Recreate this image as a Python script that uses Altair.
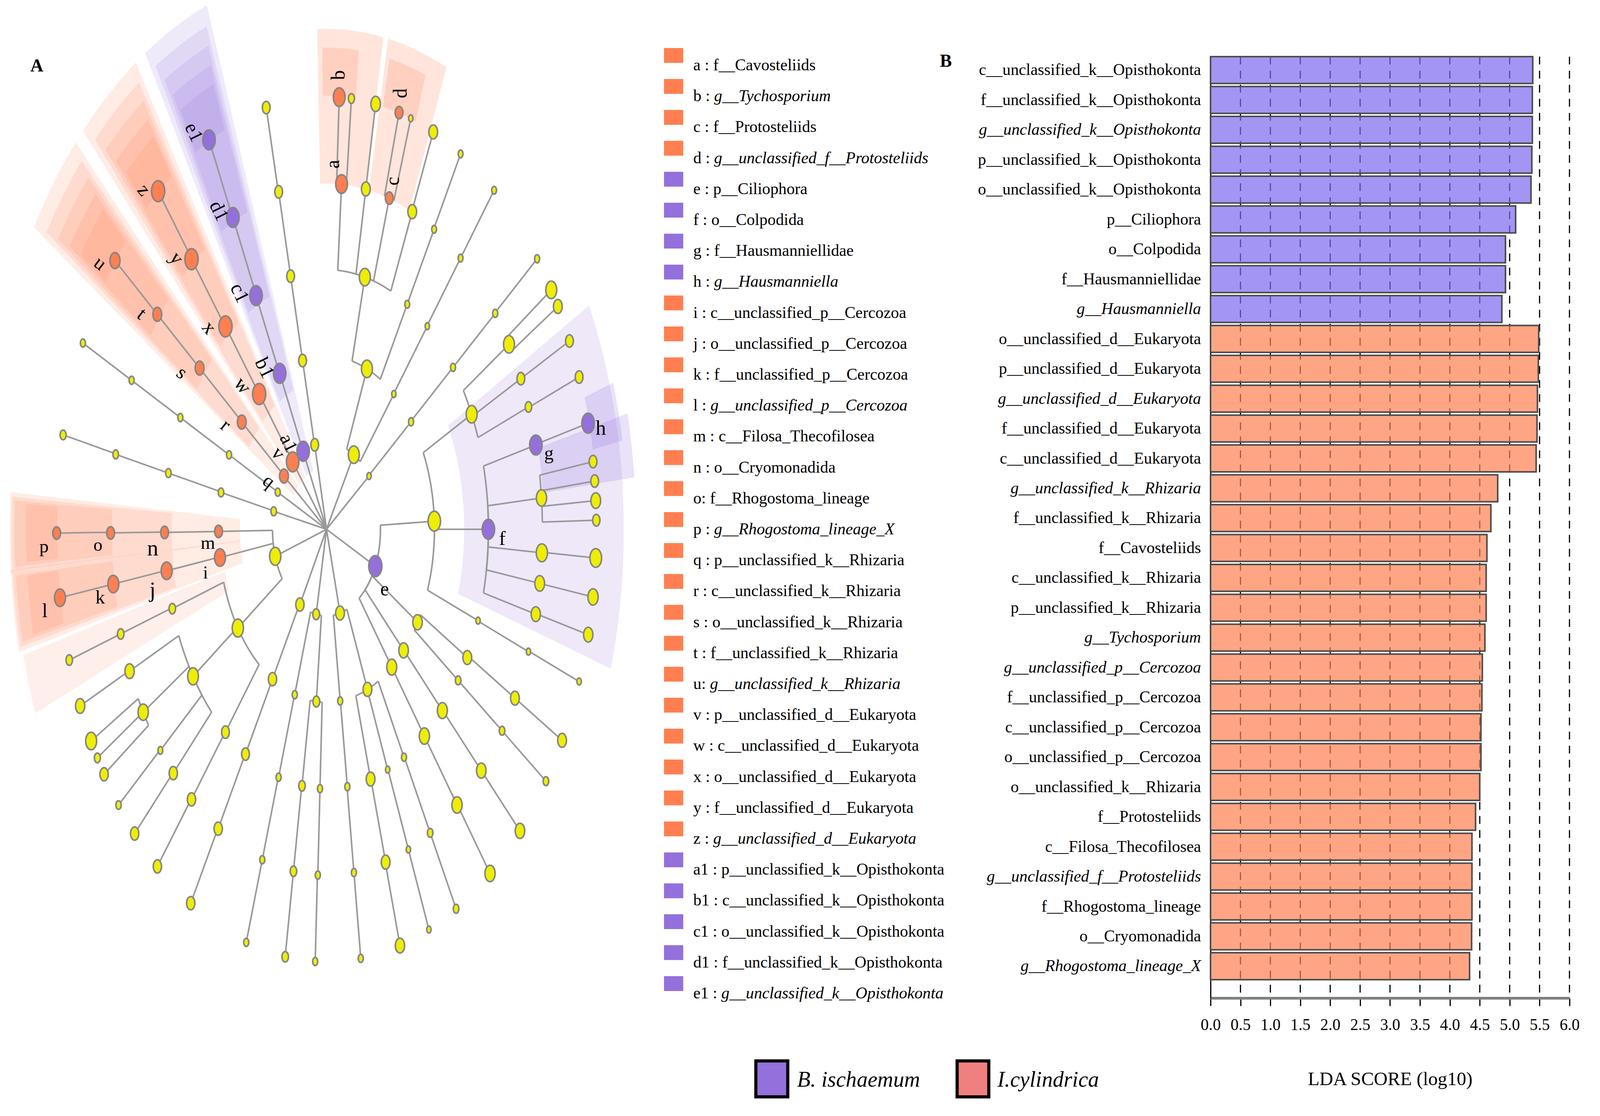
import math
import altair as alt
import pandas as pd

# The browser viewport turns out to be about 4096 x 2857 CSS px, so the chart fills it:
# horizontal reference pixels are scaled by KX, vertical ones are kept.
W, H = 4076, 2840
KX = W / 6534.0
FONT = "Liberation Serif"


def PX(v):
    return (v - 8) * KX


def PY(v):
    return v - 8


COL = {"Y": "#EEEE00", "O": "#FF7F50", "P": "#9370DB"}

# ---------------- Panel A : cladogram ----------------
# node = (id, parent, angle in degrees (ccw from east), ring level, diameter px, class)
br_k = [("K1", "R", 102.6, 1, 36, "Y"), ("K2", "K1", 102.8, 2, 36, "Y"), ("K3", "K2", 102.8, 3, 36, "Y"),
        ("K4", "K3", 102.8, 4, 36, "Y"), ("K5", "K4", 102.9, 5, 36, "Y")]
br_opis = [("a1", "R", 115.6, 1, 55, "P"), ("b1", "a1", 115.7, 2, 55, "P"), ("c1", "b1", 115.8, 3, 55, "P"),
           ("d1", "c1", 115.7, 4, 55, "P"), ("e1", "d1", 115.8, 5, 55, "P")]
br_euk = [("v", "R", 128.8, 1, 55, "O"), ("w", "v", 128.6, 2, 58, "O"), ("x", "w", 128.6, 3, 58, "O"),
          ("y", "x", 128.7, 4, 58, "O"), ("z", "y", 128.6, 5, 58, "O")]
br_rhiz = [("q", "R", 142.0, 1, 40, "O"), ("r", "q", 141.7, 2, 40, "O"), ("s", "r", 141.6, 3, 40, "O"),
           ("t", "s", 141.6, 4, 40, "O"), ("u", "t", 141.6, 5, 45, "O")]
br_s = [("S1", "R", 154.6, 1, 25, "Y"), ("S2", "S1", 154.5, 2, 25, "Y"), ("S3", "S2", 154.5, 3, 25, "Y"),
        ("S4", "S3", 154.5, 4, 25, "Y"), ("S5", "S4", 154.5, 5, 25, "Y")]
br_t = [("T1", "R", 168.0, 1, 27, "Y"), ("T2", "T1", 167.7, 2, 27, "Y"), ("T3", "T2", 167.5, 3, 27, "Y"),
        ("T4", "T3", 167.5, 4, 27, "Y"), ("T5", "T4", 167.4, 5, 29, "Y")]
br_cerc = [("C1", "R", 198.2, 1, 50, "Y"),
           ("m", "C1", 180.7, 2, 36, "O"), ("n", "m", 180.7, 3, 36, "O"), ("o", "n", 180.6, 4, 36, "O"),
           ("p", "o", 180.5, 5, 36, "O"),
           ("i", "C1", 189.4, 2, 49, "O"), ("j", "i", 189.2, 3, 49, "O"), ("k", "j", 189.1, 4, 49, "O"),
           ("l", "k", 189.1, 5, 49, "O"),
           ("C2", "C1", 214.8, 2, 50, "Y"),
           ("Ca3", "C2", 197.8, 3, 31, "Y"), ("Ca4", "Ca3", 197.6, 4, 31, "Y"), ("Ca5", "Ca4", 197.6, 5, 31, "Y"),
           ("Cb3", "C2", 214.5, 3, 48, "Y"),
           ("Cb4a", "Cb3", 204.2, 4, 42, "Y"), ("Cb5a", "Cb4a", 204.1, 5, 42, "Y"),
           ("Cb4b", "Cb3", 211.9, 4, 46, "Y"), ("Cb5b", "Cb4b", 209.3, 5, 49, "Y"),
           ("Cb5c", "Cb4b", 211.9, 5, 29, "Y"), ("Cb5d", "Cb4b", 214.5, 5, 38, "Y"),
           ("Cb4c", "Cb3", 219.7, 4, 24, "Y"), ("Cb5e", "Cb4c", 219.6, 5, 26, "Y"),
           ("Cb4d", "Cb3", 224.8, 4, 38, "Y"), ("Cb5f", "Cb4d", 224.7, 5, 38, "Y"),
           ("Cc3", "C2", 231.4, 3, 36, "Y"), ("Cc4", "Cc3", 231.3, 4, 38, "Y"), ("Cc5", "Cc4", 231.2, 5, 38, "Y")]
br_u = [("U1", "R", 240.5, 1, 38, "Y"), ("U2", "U1", 240.0, 2, 38, "Y"), ("U3", "U2", 240.0, 3, 36, "Y"),
        ("U4", "U3", 239.9, 4, 38, "Y"), ("U5", "U4", 239.8, 5, 38, "Y")]
br_g = [("G1", "R", 259.0, 1, 32, "Y"),
        ("Ga2", "G1", 252.9, 2, 25, "Y"), ("Ga3", "Ga2", 252.8, 3, 25, "Y"), ("Ga4", "Ga3", 252.7, 4, 25, "Y"),
        ("Ga5", "Ga4", 252.7, 5, 25, "Y"),
        ("Gb2", "G1", 264.6, 2, 32, "Y"),
        ("Gb3", "Gb2", 261.3, 3, 31, "Y"), ("Gb4", "Gb3", 261.2, 4, 31, "Y"), ("Gb5", "Gb4", 261.2, 5, 31, "Y"),
        ("Gc3", "Gb2", 267.7, 3, 25, "Y"), ("Gc4", "Gc3", 267.7, 4, 25, "Y"), ("Gc5", "Gc4", 267.6, 5, 25, "Y")]
br_h = [("H1", "R", 284.5, 1, 40, "Y"),
        ("Ha2", "H1", 277.3, 2, 25, "Y"), ("Ha3", "Ha2", 277.4, 3, 25, "Y"), ("Ha4", "Ha3", 277.3, 4, 25, "Y"),
        ("Ha5", "Ha4", 277.3, 5, 25, "Y"),
        ("Hb2", "H1", 292.3, 2, 40, "Y"),
        ("Hb3", "Hb2", 285.8, 3, 40, "Y"), ("Hb4", "Hb3", 285.9, 4, 40, "Y"), ("Hb5", "Hb4", 285.8, 5, 42, "Y"),
        ("Hc3", "Hb2", 292.2, 3, 22, "Y"), ("Hc4", "Hc3", 292.3, 4, 22, "Y"), ("Hc5", "Hc4", 292.3, 5, 22, "Y"),
        ("Hd3", "Hb2", 298.6, 3, 25, "Y"), ("Hd4", "Hd3", 298.7, 4, 27, "Y"), ("Hd5", "Hd4", 298.7, 5, 27, "Y")]
br_e = [("e", "R", -25.2, 1, 58, "P"),
        ("E1", "e", 2.7, 2, 55, "Y"),
        ("Ea3", "E1", 26.3, 3, 49, "Y"),
        ("Ea4", "Ea3", 32.3, 4, 49, "Y"), ("Ea5", "Ea4", 33.6, 5, 49, "Y"), ("Ea6", "Ea4", 31.0, 5, 40, "Y"),
        ("Eb4", "Ea3", 25.8, 4, 36, "Y"), ("Eb5", "Eb4", 25.8, 5, 36, "Y"),
        ("Ec4", "Ea3", 20.7, 4, 31, "Y"), ("Ec5", "Ec4", 20.6, 5, 36, "Y"),
        ("f", "E1", 0.0, 3, 55, "P"),
        ("g", "f", 14.1, 4, 55, "P"), ("h", "g", 14.2, 5, 55, "P"),
        ("F4", "f", 5.2, 4, 46, "Y"), ("F5a", "F4", 9.0, 5, 36, "Y"), ("F5b", "F4", 6.4, 5, 36, "Y"),
        ("F5c", "F4", 3.8, 5, 44, "Y"), ("F5d", "F4", 1.2, 5, 34, "Y"),
        ("Fb4", "f", -3.9, 4, 50, "Y"), ("Fb5", "Fb4", -3.8, 5, 52, "Y"),
        ("Fc4", "f", -9.0, 4, 44, "Y"), ("Fc5", "Fc4", -9.0, 5, 46, "Y"),
        ("Fd4", "f", -14.2, 4, 42, "Y"), ("Fd5", "Fd4", -14.1, 5, 42, "Y"),
        ("Ed3", "E1", -20.6, 3, 22, "Y"), ("Ed4", "Ed3", -20.7, 4, 22, "Y"), ("Ed5", "Ed4", -20.6, 5, 22, "Y"),
        ("E2", "e", -32.5, 2, 43, "Y"),
        ("E2a3", "E2", -29.6, 3, 40, "Y"), ("E2a4", "E2a3", -29.2, 4, 40, "Y"), ("E2a5", "E2a4", -29.2, 5, 40, "Y"),
        ("E2b3", "E2", -35.6, 3, 27, "Y"), ("E2b4", "E2b3", -35.6, 4, 27, "Y"), ("E2b5", "E2b4", -35.6, 5, 27, "Y"),
        ("E3", "e", -44.4, 2, 43, "Y"), ("E3a", "E3", -44.3, 3, 45, "Y"), ("E3b", "E3a", -44.2, 4, 43, "Y"),
        ("E3c", "E3b", -44.2, 5, 43, "Y"),
        ("E4", "e", -52.8, 2, 45, "Y"), ("E4a", "E4", -52.8, 3, 46, "Y"), ("E4b", "E4a", -52.8, 4, 46, "Y"),
        ("E4c", "E4b", -52.7, 5, 46, "Y")]
br_v = [("V1", "R", 38.0, 1, 22, "Y"), ("V2", "V1", 38.4, 2, 25, "Y"), ("V3", "V2", 38.6, 3, 25, "Y"),
        ("V4", "V3", 38.6, 4, 25, "Y"), ("V5", "V4", 38.7, 5, 25, "Y")]
br_a = [("A1", "R", 59.6, 1, 49, "Y"),
        ("A2", "A1", 68.0, 2, 49, "Y"),
        ("A3", "A2", 76.3, 3, 49, "Y"),
        ("a", "A3", 86.0, 4, 52, "O"), ("b", "a", 87.3, 5, 52, "O"), ("Ab", "a", 84.7, 5, 29, "Y"),
        ("A4b", "A3", 79.5, 4, 40, "Y"), ("A5b", "A4b", 79.5, 5, 43, "Y"),
        ("c", "A3", 73.1, 4, 36, "O"), ("d", "c", 74.4, 5, 36, "O"), ("Cd", "c", 71.8, 5, 22, "Y"),
        ("A4d", "A3", 66.6, 4, 40, "Y"), ("A5d", "A4d", 66.7, 5, 40, "Y"),
        ("A3b", "A2", 60.1, 3, 24, "Y"), ("A4e", "A3b", 60.1, 4, 24, "Y"), ("A5e", "A4e", 60.2, 5, 24, "Y"),
        ("B2", "A1", 51.4, 2, 22, "Y"), ("B3", "B2", 51.5, 3, 22, "Y"), ("B4", "B3", 51.6, 4, 24, "Y"),
        ("B5", "B4", 51.6, 5, 24, "Y")]

# clade shading: (biomarker, angle from, angle to, inner radius, outer radius, opacity)
sh_opis = [("a1", 110.1, 121.4, 160, 1428, .15), ("b1", 110.9, 120.6, 380, 1378, .15),
           ("c1", 111.4, 120.0, 640, 1329, .15), ("d1", 111.8, 119.5, 875, 1279, .15),
           ("e1", 112.2, 119.1, 1105, 1230, .15)]
sh_euk = [("v", 123.2, 134.4, 160, 1428, .15), ("w", 123.9, 133.6, 380, 1378, .15),
          ("x", 124.4, 133.0, 640, 1329, .15), ("y", 124.9, 132.5, 875, 1279, .15),
          ("z", 125.2, 132.0, 1105, 1230, .15)]
sh_rhiz = [("q", 136.1, 147.2, 160, 1428, .15), ("r", 136.8, 146.5, 380, 1378, .15),
           ("s", 137.3, 146.0, 640, 1329, .15), ("t", 137.8, 145.5, 875, 1279, .15),
           ("u", 138.2, 145.1, 1105, 1230, .15)]
sh_cerc = [("m", 175.8, 185.0, 355, 1300, .15), ("n", 176.3, 184.7, 635, 1292, .15),
           ("o", 176.7, 184.3, 880, 1280, .15), ("p", 177.0, 183.9, 1105, 1233, .15),
           ("i", 184.6, 194.0, 355, 1300, .15), ("j", 185.0, 193.5, 635, 1292, .15),
           ("k", 185.3, 193.0, 880, 1280, .15), ("l", 185.5, 192.6, 1105, 1233, .15),
           ("i", 194.5, 201.5, 430, 1285, .12)]
sh_top = [("a", 79.5, 91.7, 885, 1281, .2), ("b", 83.8, 90.8, 1110, 1233, .2),
          ("c", 67.4, 78.6, 885, 1281, .2), ("d", 70.7, 77.9, 1106, 1232, .2)]
sh_right = [("f", -17.0, 28.0, 565, 1220, .16), ("g", 6.0, 13.5, 893, 1270, .2),
            ("h", 10.6, 17.7, 1112, 1235, .2)]

# biomarker letters: (text, angle, radius, rotation, font size)
lab_top = [("a", 88.3, 935, 270, 68), ("b", 87.5, 1164, 270, 68), ("c", 73.0, 932, 270, 68),
           ("d", 74.7, 1157, 270, 68)]
lab_right = [("e", -32.8, 284, 0, 68), ("f", -2.0, 722, 0, 68), ("g", 12.0, 933, 0, 66),
             ("h", 12.9, 1155, 0, 72)]
lab_cerc = [("i", 192.7, 509, 0, 62), ("j", 192.4, 731, 0, 78), ("k", 190.7, 945, 0, 66),
            ("l", 190.3, 1175, 0, 68), ("m", 184.2, 488, 0, 64), ("n", 184.0, 715, 0, 78),
            ("o", 182.5, 939, 0, 62), ("p", 182.2, 1160, 0, 64)]
lab_rhiz = [("q", 152.6, 267, 38, 66), ("r", 147.3, 493, 38, 68), ("s", 146.0, 716, 38, 68),
            ("t", 144.0, 938, 38, 68), ("u", 143.8, 1152, 38, 68)]
lab_euk = [("v", 135.7, 278, 51, 68), ("w", 133.1, 504, 51, 70), ("x", 133.0, 706, 51, 70),
           ("y", 131.6, 928, 51, 68), ("z", 130.8, 1147, 51, 68)]
lab_opis = [("a1", 125.2, 270, 64, 66), ("b1", 121.6, 485, 64, 70), ("c1", 120.5, 702, 64, 70),
            ("d1", 118.5, 927, 64, 68), ("e1", 118.2, 1153, 64, 68)]

# ---------------- middle key ----------------
key_items = ["a : f__Cavosteliids", "b : g__Tychosporium", "c : f__Protosteliids",
             "d : g__unclassified_f__Protosteliids", "e : p__Ciliophora", "f : o__Colpodida",
             "g : f__Hausmanniellidae", "h : g__Hausmanniella", "i : c__unclassified_p__Cercozoa",
             "j : o__unclassified_p__Cercozoa", "k : f__unclassified_p__Cercozoa",
             "l : g__unclassified_p__Cercozoa", "m : c__Filosa_Thecofilosea", "n : o__Cryomonadida",
             "o: f__Rhogostoma_lineage", "p : g__Rhogostoma_lineage_X", "q : p__unclassified_k__Rhizaria",
             "r : c__unclassified_k__Rhizaria", "s : o__unclassified_k__Rhizaria",
             "t : f__unclassified_k__Rhizaria", "u: g__unclassified_k__Rhizaria",
             "v : p__unclassified_d__Eukaryota", "w : c__unclassified_d__Eukaryota",
             "x : o__unclassified_d__Eukaryota", "y : f__unclassified_d__Eukaryota",
             "z : g__unclassified_d__Eukaryota", "a1 : p__unclassified_k__Opisthokonta",
             "b1 : c__unclassified_k__Opisthokonta", "c1 : o__unclassified_k__Opisthokonta",
             "d1 : f__unclassified_k__Opisthokonta", "e1 : g__unclassified_k__Opisthokonta"]
key_cls = ["O"] * 4 + ["P"] * 4 + ["O"] * 18 + ["P"] * 5

# ---------------- Panel B : LDA bars ----------------
bar_names = ["c__unclassified_k__Opisthokonta", "f__unclassified_k__Opisthokonta",
             "g__unclassified_k__Opisthokonta", "p__unclassified_k__Opisthokonta",
             "o__unclassified_k__Opisthokonta", "p__Ciliophora", "o__Colpodida", "f__Hausmanniellidae",
             "g__Hausmanniella", "o__unclassified_d__Eukaryota", "p__unclassified_d__Eukaryota",
             "g__unclassified_d__Eukaryota", "f__unclassified_d__Eukaryota", "c__unclassified_d__Eukaryota",
             "g__unclassified_k__Rhizaria", "f__unclassified_k__Rhizaria", "f__Cavosteliids",
             "c__unclassified_k__Rhizaria", "p__unclassified_k__Rhizaria", "g__Tychosporium",
             "g__unclassified_p__Cercozoa", "f__unclassified_p__Cercozoa", "c__unclassified_p__Cercozoa",
             "o__unclassified_p__Cercozoa", "o__unclassified_k__Rhizaria", "f__Protosteliids",
             "c__Filosa_Thecofilosea", "g__unclassified_f__Protosteliids", "f__Rhogostoma_lineage",
             "o__Cryomonadida", "g__Rhogostoma_lineage_X"]
bar_values = [5.386, 5.379, 5.379, 5.371, 5.357, 5.10, 4.93, 4.93, 4.87,
              5.486, 5.479, 5.464, 5.457, 5.443, 4.80, 4.686, 4.62, 4.607, 4.607, 4.586,
              4.543, 4.536, 4.52, 4.52, 4.50, 4.43, 4.37, 4.37, 4.37, 4.364, 4.33]
bar_cls = ["P"] * 9 + ["O"] * 22
lda_ticks = [0.0, 0.5, 1.0, 1.5, 2.0, 2.5, 3.0, 3.5, 4.0, 4.5, 5.0, 5.5, 6.0]

group_names = ["B. ischaemum", "I.cylindrica"]
group_colors = ["#9370DB", "#F08080"]

# ======================= build tables =======================
STEP = 221.5
CXc, CYc = PX(1335), PY(1355)


def cosd(a):
    return math.cos(math.radians(a))


def sind(a):
    return math.sin(math.radians(a))


nodes = pd.DataFrame(br_k + br_opis + br_euk + br_rhiz + br_s + br_t + br_cerc + br_u + br_g + br_h +
                     br_e + br_v + br_a,
                     columns=["id", "parent", "angle", "level", "diam", "cls"])
nodes["r"] = nodes["level"] * STEP
nodes["x"] = nodes["r"] * nodes["angle"].map(cosd)
nodes["y"] = nodes["r"] * nodes["angle"].map(sind)
nodes["fill"] = nodes["cls"].map(COL)
nodes["sz"] = (nodes["diam"] - 4) ** 2
ang_of = dict(zip(nodes["id"], nodes["angle"]))

seg_rows, arc_rows = [], []
for nd in nodes.itertuples():
    r_in = (nd.level - 1) * STEP
    seg_rows.append(dict(x=r_in * cosd(nd.angle), y=r_in * sind(nd.angle),
                         x2=nd.r * cosd(nd.angle), y2=nd.r * sind(nd.angle)))
    if nd.parent != "R":
        a0, a1 = nd.angle, ang_of[nd.parent]
        n = int(abs(a1 - a0) / 0.5) + 2
        if abs(a1 - a0) > 0.05:
            for s in range(n):
                a = a0 + (a1 - a0) * s / (n - 1)
                arc_rows.append(dict(cid=nd.id, seq=s, x=r_in * cosd(a), y=r_in * sind(a)))
segs = pd.DataFrame(seg_rows)
conn = pd.DataFrame(arc_rows)


def wedge_path(a1, a2, r1, r2):
    n = int(abs(a2 - a1) / 0.5) + 2
    angs = [a1 + (a2 - a1) * i / (n - 1) for i in range(n)]
    pts = [(KX * r2 * cosd(a), -r2 * sind(a)) for a in angs]
    pts += [(KX * r1 * cosd(a), -r1 * sind(a)) for a in reversed(angs)]
    return "M" + "L".join(f"{x:.1f},{y:.1f}" for x, y in pts) + "Z"


cls_of = dict(zip(nodes["id"], nodes["cls"]))
sh = pd.DataFrame(sh_opis + sh_euk + sh_rhiz + sh_cerc + sh_top + sh_right,
                  columns=["lab", "a1", "a2", "r1", "r2", "op"])
sh["path"] = [wedge_path(r.a1, r.a2, r.r1, r.r2) for r in sh.itertuples()]
sh["col"] = sh["lab"].map(lambda k: COL[cls_of[k]])

labs = pd.DataFrame(lab_top + lab_right + lab_cerc + lab_rhiz + lab_euk + lab_opis,
                    columns=["txt", "angle", "r", "rot", "fs"])
labs["x"] = labs["r"] * labs["angle"].map(cosd)
labs["y"] = labs["r"] * labs["angle"].map(sind)
labs["fs"] = labs["fs"] * 0.74

# cladogram position scales, in reference pixels around the root
xsA = alt.Scale(domain=[-CXc / KX, (W - CXc) / KX], nice=False, zero=False)
ysA = alt.Scale(domain=[CYc - H, CYc], nice=False, zero=False)
ELLIPSE = f"M{-KX:.4f},0A{KX:.4f},1 0 1,0 {KX:.4f},0A{KX:.4f},1 0 1,0 {-KX:.4f},0Z"

shade_l = alt.Chart(sh).mark_point(filled=True, strokeWidth=0, size=4).encode(
    x=alt.value(CXc), y=alt.value(CYc), shape=alt.Shape("path:N", scale=None),
    color=alt.Color("col:N", scale=None), opacity=alt.Opacity("op:Q", scale=None))

conn_l = alt.Chart(conn).mark_line(color="#999999", strokeWidth=4).encode(
    x=alt.X("x:Q", scale=xsA, axis=None), y=alt.Y("y:Q", scale=ysA, axis=None),
    detail="cid:N", order="seq:Q")

seg_l = alt.Chart(segs).mark_rule(color="#999999", strokeWidth=4).encode(
    x=alt.X("x:Q", scale=xsA, axis=None), y=alt.Y("y:Q", scale=ysA, axis=None),
    x2="x2:Q", y2="y2:Q")

node_l = alt.Chart(nodes).mark_point(shape=ELLIPSE, filled=True, opacity=1, stroke="#858585",
                                     strokeWidth=4).encode(
    x=alt.X("x:Q", scale=xsA, axis=None), y=alt.Y("y:Q", scale=ysA, axis=None),
    size=alt.Size("sz:Q", scale=None), color=alt.Color("fill:N", scale=None))

lab_l = alt.Chart(labs).mark_text(font=FONT, color="black", align="center", baseline="middle").encode(
    x=alt.X("x:Q", scale=xsA, axis=None), y=alt.Y("y:Q", scale=ysA, axis=None),
    text="txt:N", angle=alt.Angle("rot:Q", scale=None), size=alt.Size("fs:Q", scale=None))

panel_lab = pd.DataFrame({"t": ["A", "B"], "px": [PX(120), PX(3852)], "py": [PY(183), PY(171)]})
panel_l = alt.Chart(panel_lab).mark_text(font=FONT, fontWeight="bold", fontSize=46, align="left",
                                         baseline="alphabetic", color="black").encode(
    x=alt.X("px:Q", scale=None), y=alt.Y("py:Q", scale=None), text="t:N")

# ---- middle key ----
TW = {'a': .444, 'b': .5, 'c': .444, 'd': .5, 'e': .444, 'f': .333, 'g': .5, 'h': .5, 'i': .278, 'j': .278,
      'k': .5, 'l': .278, 'm': .778, 'n': .5, 'o': .5, 'p': .5, 'q': .5, 'r': .333, 's': .389, 't': .278,
      'u': .5, 'v': .5, 'w': .722, 'x': .5, 'y': .5, 'z': .444, '1': .5, ' ': .25, ':': .278}
KEY_FS = 67 * KX
KEY_X = PX(2840)
rows = []
for idx, (item, c) in enumerate(zip(key_items, key_cls)):
    head, name = item.split(": ", 1)
    prefix = head + ": "
    rows.append(dict(row=idx, prefix=prefix, name=name, ital=name.startswith("g__"),
                     col=COL[c], nx=KEY_X + sum(TW.get(ch, .5) for ch in prefix) * KEY_FS))
key = pd.DataFrame(rows)
KEY_TOP, KEY_PITCH = PY(123), 79.2
key_scale = alt.Scale(type="band", domain=list(range(len(key_items))),
                      range=[KEY_TOP, KEY_TOP + KEY_PITCH * (len(key_items) - 0.52)],
                      paddingInner=0.52, paddingOuter=0)
key_y = alt.Y("row:O", scale=key_scale, axis=None)
KEY_DY = 38
key_sw = alt.Chart(key).mark_rect().encode(
    x=alt.value(PX(2720)), x2=alt.value(PX(2799)), y=key_y, color=alt.Color("col:N", scale=None))
key_pre = alt.Chart(key).mark_text(font=FONT, fontSize=KEY_FS, align="left", baseline="alphabetic",
                                   dy=KEY_DY, color="black").encode(x=alt.value(KEY_X), y=key_y, text="prefix:N")
key_nm = alt.Chart(key).transform_filter("!datum.ital").mark_text(
    font=FONT, fontSize=KEY_FS, align="left", baseline="alphabetic", dy=KEY_DY, color="black").encode(
    x=alt.X("nx:Q", scale=None), y=key_y, text="name:N")
key_it = alt.Chart(key).transform_filter("datum.ital").mark_text(
    font=FONT, fontSize=KEY_FS, fontStyle="italic", align="left", baseline="alphabetic", dy=KEY_DY,
    color="black").encode(x=alt.X("nx:Q", scale=None), y=key_y, text="name:N")

# ---- Panel B ----
bars = pd.DataFrame({"name": bar_names, "val": bar_values, "cls": bar_cls})
grid = pd.DataFrame({"v": lda_ticks[1:]})
B_TOP, B_AXIS = PY(145), PY(2555)
xsB = alt.Scale(domain=[0, 6], range=[PX(4963), PX(6436)], nice=False, zero=False)
ysB = alt.Scale(domain=bar_names, range=[B_TOP, B_AXIS], paddingInner=0.1, paddingOuter=0.308, align=0)

grid_l = alt.Chart(grid).mark_rule(color="black", strokeWidth=3, strokeDash=[20, 16]).encode(
    x=alt.X("v:Q", scale=xsB, axis=None), y=alt.value(B_TOP), y2=alt.value(B_AXIS))

bar_l = alt.Chart(bars).mark_bar(fillOpacity=0.7, stroke="#4d4d4d", strokeWidth=4).encode(
    x=alt.X("val:Q", scale=xsB,
            axis=alt.Axis(orient="bottom", offset=B_AXIS - H, values=lda_ticks, format=".1f",
                          grid=False, domainColor="#808080", domainWidth=7, tickColor="black",
                          tickWidth=3, tickSize=20, labelFont=FONT, labelFontSize=66 * KX,
                          labelColor="black", labelPadding=28, labelFlush=False, labelOverlap=False,
                          title="LDA SCORE (log10)", titleFont=FONT, titleFontSize=78 * KX,
                          titleFontWeight="normal", titleColor="black", titleY=222,
                          titleBaseline="alphabetic")),
    y=alt.Y("name:N", scale=ysB, sort=None,
            axis=alt.Axis(orient="left", offset=-PX(4963), domainColor="black", domainWidth=3,
                          ticks=False, grid=False, labelFont=FONT, labelFontSize=67 * KX, labelColor="black",
                          labelPadding=40 * KX, labelLimit=3000, title=None,
                          labelFontStyle={"condition": {"test": "test(/^g__/, datum.label)",
                                                        "value": "italic"}, "value": "normal"})),
    color=alt.Color("cls:N", scale=alt.Scale(domain=["P", "O"], range=["#7B68EE", "#FF7F50"]),
                    legend=None))

# ---- group legend ----
grp = pd.DataFrame({"name": group_names, "col": group_colors,
                    "x1": [PX(3097), PX(3923)], "x2": [PX(3228), PX(4053)], "tx": [PX(3266), PX(4088)]})
grp_sw = alt.Chart(grp).mark_rect(stroke="black", strokeWidth=8).encode(
    x=alt.X("x1:Q", scale=None), x2="x2:Q", y=alt.value(PY(2716)), y2=alt.value(PY(2808)),
    color=alt.Color("col:N", scale=None))
grp_tx = alt.Chart(grp).mark_text(font=FONT, fontStyle="italic", fontSize=90 * KX, align="left",
                                  baseline="middle", color="black").encode(
    x=alt.X("tx:Q", scale=None), y=alt.value(PY(2765)), text="name:N")

chart = alt.layer(
    shade_l, conn_l, seg_l, node_l, lab_l, panel_l,
    key_sw, key_pre, key_nm, key_it,
    grid_l, bar_l, grp_sw, grp_tx
).resolve_scale(
    x="independent", y="independent", color="independent"
).properties(
    width=W, height=H, padding=0, autosize=alt.AutoSizeParams(type="none"), background="white"
).configure_view(strokeWidth=0)

chart.save("out.html", embed_options={"renderer": "svg", "actions": False})
